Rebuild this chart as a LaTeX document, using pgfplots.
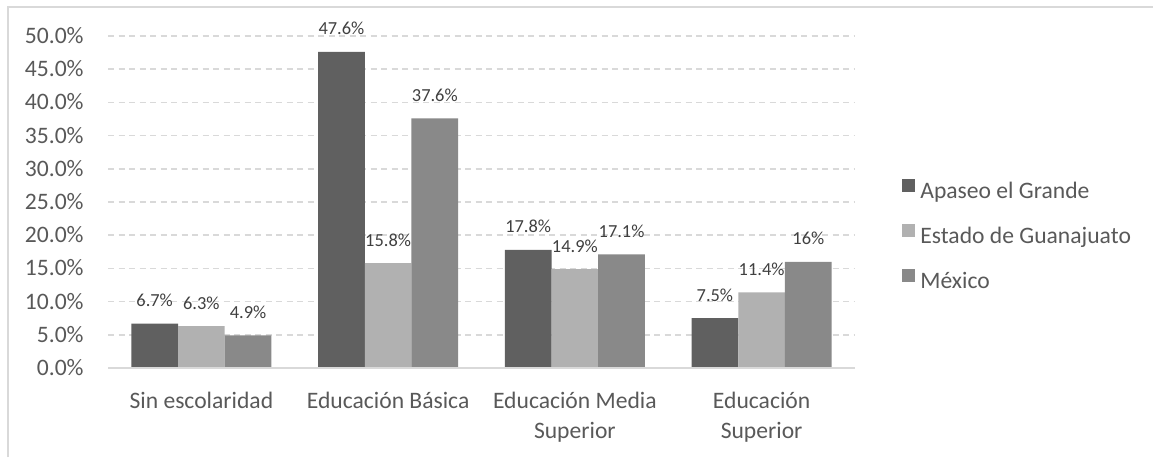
\documentclass[border=0pt]{standalone}
\usepackage{fontspec}
\setmainfont{Carlito}
\usepackage{pgfplots}
\pgfplotsset{compat=1.18}
\definecolor{cA}{HTML}{606060}
\definecolor{cB}{HTML}{B1B1B1}
\definecolor{cC}{HTML}{898989}
\definecolor{txt}{HTML}{595959}
\definecolor{lbl}{HTML}{404040}
\definecolor{gridc}{HTML}{D9D9D9}
\newcommand\mainfont{\fontsize{11.8}{15}\selectfont}
\begin{document}
\begin{tikzpicture}
\path[use as bounding box] (0,0) rectangle (576.5pt,228.5pt);
\draw[gridc, line width=0.75pt] (4pt,0) -- (4pt,225pt) -- (576.5pt,225pt);
\begin{axis}[
  at={(54pt,44.5pt)}, anchor=south west,
  scale only axis, width=373.5pt, height=166pt,
  xmin=-0.5, xmax=3.5, ymin=0, ymax=50,
  ybar=0pt, bar width=23.35pt,
  clip=false,
  axis line style={draw=none},
  major tick length=0pt,
  xtick={0,1,2,3},
  xticklabels={\strut Sin escolaridad, \strut Educación Básica, {\strut Educación Media\\Superior}, {\strut Educación\\Superior}},
  xticklabel style={font=\mainfont, text=txt, align=center, anchor=north, inner sep=0pt, yshift=-9.3pt},
  ytick={0,5,10,15,20,25,30,35,40,45,50},
  yticklabel={\pgfmathprintnumber[fixed,fixed zerofill,precision=1]{\tick}\%},
  /pgf/number format/assume math mode=true,
  yticklabel style={font=\mainfont, text=txt, anchor=base east, inner sep=0pt, xshift=-12pt, yshift=-3.7pt},
  ymajorgrids,
  grid style={gridc, line width=0.75pt, dash pattern=on 3pt off 2.25pt},
  point meta=explicit symbolic,
  nodes near coords,
  every node near coord/.append style={font=\fontsize{9.2}{11}\selectfont, text=lbl, anchor=base, inner sep=0pt, yshift=8.5pt},
  legend style={at={(1.0629,0.5705)}, anchor=north west, draw=none, fill=none, inner sep=0pt, row sep=10.5pt, column sep=2.5pt, font=\mainfont, text=txt, nodes={inner sep=0pt, text height=8pt, text depth=2.5pt}},
  legend cell align=left,
  legend image code/.code={\fill[#1] (0pt,0.3pt) rectangle (6.5pt,6.8pt);},
]
\addplot[fill=cA, draw=none] coordinates {(0,6.7) [6.7\%] (1,47.6) [47.6\%] (2,17.8) [17.8\%] (3,7.5) [7.5\%]};
\addplot[fill=cB, draw=none] coordinates {(0,6.3) [6.3\%] (1,15.8) [15.8\%] (2,14.9) [14.9\%] (3,11.4) [11.4\%]};
\addplot[fill=cC, draw=none] coordinates {(0,4.9) [4.9\%] (1,37.6) [37.6\%] (2,17.1) [17.1\%] (3,16) [16\%]};
\legend{Apaseo el Grande, Estado de Guanajuato, México}
\draw[gridc, line width=0.75pt] (rel axis cs:0,0) -- (rel axis cs:1,0);
\end{axis}
\end{tikzpicture}
\end{document}
